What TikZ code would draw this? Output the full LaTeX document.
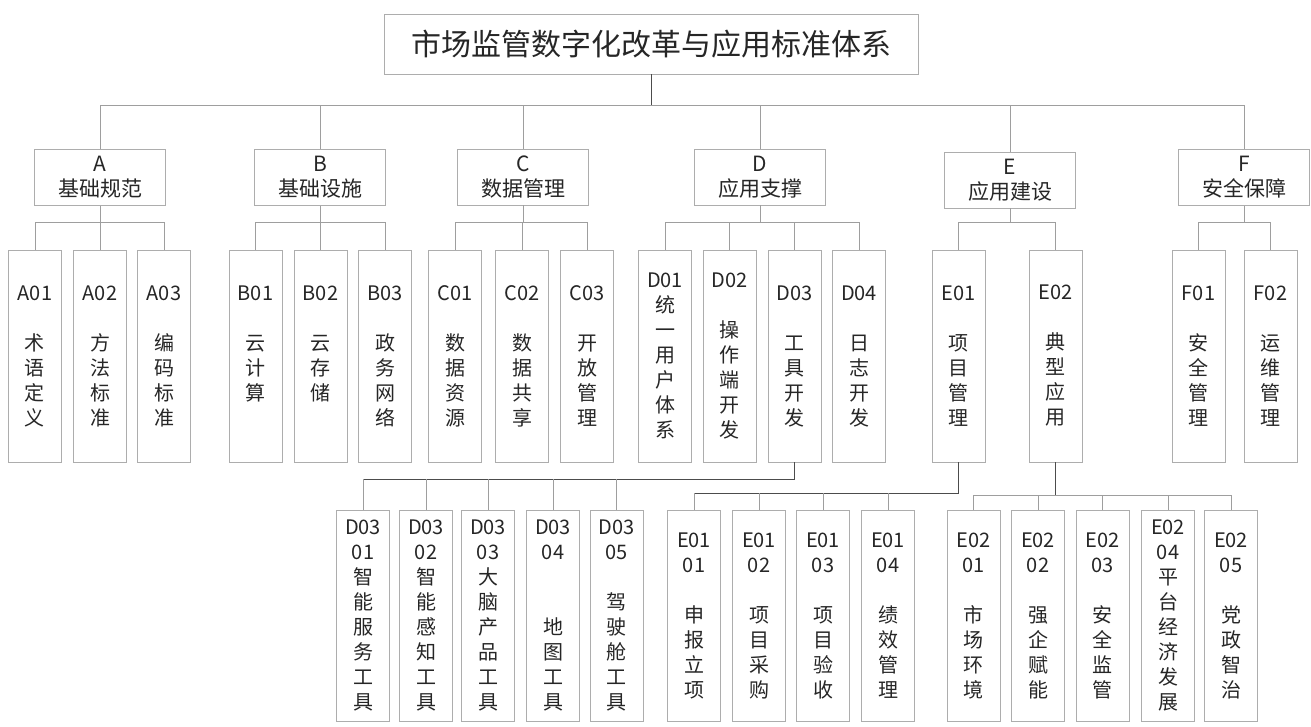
\documentclass[tikz,border=0pt]{standalone}
\usepackage{fontspec}
\setmainfont{Noto Sans CJK SC}
\usepackage{tikz}
\usetikzlibrary{positioning,calc}
\usepackage{xcolor}

\tikzset{
    box/.style={draw=black!32, line width=0.6pt, text=black!85, inner sep=0pt, align=center},
    rootbox/.style={box, minimum width=401pt, minimum height=45pt, font=\fontsize{22.5pt}{27pt}\selectfont},
    catbox/.style={box, minimum width=98pt, minimum height=42pt, font=\fontsize{15.75pt}{18.75pt}\selectfont},
    leaf/.style={box, minimum width=39.75pt, minimum height=159pt, font=\fontsize{15pt}{18.75pt}\selectfont},
    link/.style={draw=black!38, line width=0.6pt},
    trunk/.style={draw=black!70, line width=0.7pt}
}

\begin{document}
\begin{tikzpicture}[x=0.75pt, y=-0.75pt]
    \useasboundingbox (0,0) rectangle (1311,726);

    % =========================================================================
    % Root and first level
    % =========================================================================
    \node[rootbox] (root) at (651.5,44) {市场监管数字化改革与应用标准体系};

    \foreach \n/\x/\y/\t in {catA/100/177.5/{A\\基础规范}, catB/320/177.5/{B\\基础设施},
        catC/523/177/{C\\数据管理}, catD/760/177/{D\\应用支撑},
        catE/1010/180/{E\\应用建设}, catF/1244/177.5/{F\\安全保障}} {
        \node[catbox] (\n) at (\x,\y) {\t};
    }

    \coordinate (bus) at (651.5,105);
    \draw[trunk] (root.south) -- (bus);
    \draw[link] (catA.north) -- (catA.north |- bus) -- (catF.north |- bus) -- (catF.north);
    \foreach \n in {catB,catC,catD,catE} {
        \draw[link] (\n.north) -- (\n.north |- bus);
    }

    % =========================================================================
    % Second level
    % =========================================================================
    \foreach \n/\x/\t in {
        A01/35/{A01\\\mbox{}\\术\\语\\定\\义}, A02/100/{A02\\\mbox{}\\方\\法\\标\\准},
        A03/164/{A03\\\mbox{}\\编\\码\\标\\准},
        B01/255.5/{B01\\\mbox{}\\云\\计\\算\\\mbox{}}, B02/320.5/{B02\\\mbox{}\\云\\存\\储\\\mbox{}},
        B03/385/{B03\\\mbox{}\\政\\务\\网\\络},
        C01/455/{C01\\\mbox{}\\数\\据\\资\\源}, C02/522/{C02\\\mbox{}\\数\\据\\共\\享},
        C03/587/{C03\\\mbox{}\\开\\放\\管\\理},
        D01/665/{D01\\统\\一\\用\\户\\体\\系}, D02/729.5/{D02\\\mbox{}\\操\\作\\端\\开\\发},
        D03/794.5/{D03\\\mbox{}\\工\\具\\开\\发}, D04/859/{D04\\\mbox{}\\日\\志\\开\\发},
        E01/958.5/{E01\\\mbox{}\\项\\目\\管\\理}, E02/1055.5/{E02\\\mbox{}\\典\\型\\应\\用},
        F01/1198.5/{F01\\\mbox{}\\安\\全\\管\\理}, F02/1270.5/{F02\\\mbox{}\\运\\维\\管\\理}} {
        \node[leaf] (\n) at (\x,356) {\t};
    }

    \coordinate (sub) at (0,222);
    \foreach \p/\a/\b in {catA/A01/A03, catB/B01/B03, catC/C01/C03, catD/D01/D04, catE/E01/E02, catF/F01/F02} {
        \draw[link] (\p.south) -- (\p.south |- sub);
        \draw[link] (\a.north |- sub) -- (\b.north |- sub);
    }
    \foreach \n in {A01,A02,A03,B01,B02,B03,C01,C02,C03,D01,D02,D03,D04,E01,E02,F01,F02} {
        \draw[link] (\n.north) -- (\n.north |- sub);
    }

    % =========================================================================
    % Third level (under D03, E01, E02)
    % =========================================================================
    \foreach \n/\x/\t in {
        D0301/363/{D03\\01\\智\\能\\服\\务\\工\\具}, D0302/426/{D03\\02\\智\\能\\感\\知\\工\\具},
        D0303/488/{D03\\03\\大\\脑\\产\\品\\工\\具}, D0304/553/{D03\\04\\\mbox{}\\\mbox{}\\地\\图\\工\\具},
        D0305/616.5/{D03\\05\\\mbox{}\\驾\\驶\\舱\\工\\具},
        E0101/694/{E01\\01\\\mbox{}\\申\\报\\立\\项}, E0102/759/{E01\\02\\\mbox{}\\项\\目\\采\\购},
        E0103/823/{E01\\03\\\mbox{}\\项\\目\\验\\收}, E0104/888/{E01\\04\\\mbox{}\\绩\\效\\管\\理},
        E0201/973.5/{E02\\01\\\mbox{}\\市\\场\\环\\境}, E0202/1038/{E02\\02\\\mbox{}\\强\\企\\赋\\能},
        E0203/1102.5/{E02\\03\\\mbox{}\\安\\全\\监\\管}, E0204/1168/{E02\\04\\平\\台\\经\\济\\发\\展},
        E0205/1231/{E02\\05\\\mbox{}\\党\\政\\智\\治}} {
        \node[leaf, minimum height=158.25pt] (\n) at (\x,615.5) {\t};
    }

    \coordinate (dbus) at (0,479);
    \coordinate (ebus) at (0,493);
    \coordinate (fbus) at (0,495);
    \draw[trunk] (D03.south) -- (D03.south |- dbus) -- (D0301.north |- dbus);
    \draw[trunk] (E01.south) -- (E01.south |- ebus) -- (E0101.north |- ebus);
    \draw[trunk] (E02.south) -- (E02.south |- fbus);
    \draw[link] (E0201.north |- fbus) -- (E0205.north |- fbus);

    \foreach \n in {D0301,D0302,D0303,D0304,D0305} {
        \draw[link] (\n.north) -- (\n.north |- dbus);
    }
    \foreach \n in {E0101,E0102,E0103,E0104} {
        \draw[link] (\n.north) -- (\n.north |- ebus);
    }
    \foreach \n in {E0201,E0202,E0203,E0204,E0205} {
        \draw[link] (\n.north) -- (\n.north |- fbus);
    }

\end{tikzpicture}
\end{document}
